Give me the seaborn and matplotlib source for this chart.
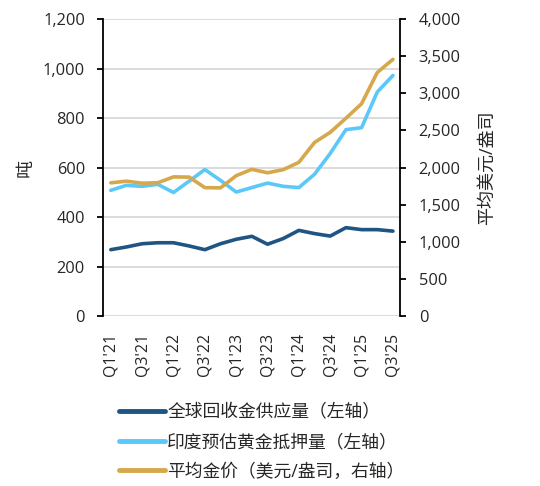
import numpy as np
import pandas as pd
import seaborn as sns
import matplotlib.pyplot as plt

# quarterly data
quarters = ["Q1'21", "Q2'21", "Q3'21", "Q4'21",
            "Q1'22", "Q2'22", "Q3'22", "Q4'22",
            "Q1'23", "Q2'23", "Q3'23", "Q4'23",
            "Q1'24", "Q2'24", "Q3'24", "Q4'24",
            "Q1'25", "Q2'25", "Q3'25"]
recycled = [268, 279, 292, 296, 296, 283, 268, 292, 310, 322,
            290, 313, 346, 333, 323, 357, 349, 349, 343]
india_pledged = [508, 528, 524, 532, 499, 545, 592, 548, 501, 519,
                 537, 524, 519, 573, 657, 753, 761, 905, 972]
gold_price = [1794, 1816, 1789, 1795, 1874, 1871, 1729, 1726, 1890, 1976,
              1929, 1971, 2070, 2338, 2474, 2663, 2860, 3280, 3457]

label_recycled = '全球回收金供应量（左轴）'
label_india = '印度预估黄金抵押量（左轴）'
label_gold = '平均金价（美元/盎司，右轴）'

df = pd.DataFrame({'idx': np.arange(len(quarters)),
                   'recycled': recycled,
                   'india': india_pledged,
                   'gold': gold_price})

sns.set_style('white')
plt.rcParams['font.family'] = ['Open Sans', 'Noto Sans CJK SC', 'DejaVu Sans']
plt.rcParams['axes.unicode_minus'] = False

c_dark = '#1f5582'
c_light = '#5bc8fa'
c_gold = '#d6a84c'

fig = plt.figure(figsize=(5.4, 4.86), dpi=100)
ax = fig.add_axes([0.1907, 0.3498, 0.55, 0.611])
ax2 = ax.twinx()

sns.lineplot(data=df, x='idx', y='recycled', ax=ax, color=c_dark, lw=2.6,
             label=label_recycled, legend=False)
sns.lineplot(data=df, x='idx', y='india', ax=ax, color=c_light, lw=2.6,
             label=label_india, legend=False)
sns.lineplot(data=df, x='idx', y='gold', ax=ax2, color=c_gold, lw=2.6,
             label=label_gold, legend=False)

ax.set_xlim(-0.5, 18.45)
ax.set_ylim(0, 1200)
ax2.set_ylim(0, 4000)
ax.set_yticks(np.arange(0, 1201, 200))
ax2.set_yticks(np.arange(0, 4001, 500))
ax.yaxis.set_major_formatter(plt.FuncFormatter(lambda v, p: f'{v:,.0f}'))
ax2.yaxis.set_major_formatter(plt.FuncFormatter(lambda v, p: f'{v:,.0f}'))

ax.set_xticks(np.arange(0, len(quarters), 2))
ax.set_xticklabels(quarters[::2], rotation=90)

ax.grid(axis='y', color='#d9d9d9', lw=1.3)
ax.set_axisbelow(True)

for a in (ax, ax2):
    for s in a.spines.values():
        s.set_visible(False)
ax.spines['left'].set_visible(True)
ax.spines['left'].set_color('black')
ax.spines['left'].set_linewidth(1.3)
ax2.spines['right'].set_visible(True)
ax2.spines['right'].set_color('black')
ax2.spines['right'].set_linewidth(1.3)

ax.tick_params(axis='y', left=True, length=4.5, width=1.3, color='black',
               pad=8.5, labelsize=11.8, labelcolor='#262626')
ax2.tick_params(axis='y', right=True, length=4.5, width=1.3, color='black',
                pad=9, labelsize=11.8, labelcolor='#262626')
ax.tick_params(axis='x', bottom=False, length=0, pad=12, labelsize=11.4,
               labelcolor='#262626')

ax.set_xlabel('')
ax.set_ylabel('吨', fontsize=13, color='#262626', labelpad=6)
ax2.set_ylabel('平均美元/盎司', fontsize=13, color='#262626', labelpad=12)

handles = ax.get_lines()[:2] + ax2.get_lines()[:1]
labels = [label_recycled, label_india, label_gold]
leg = fig.legend(handles, labels, loc='upper left',
                 bbox_to_anchor=(0.2204, 0.171), frameon=False,
                 fontsize=12.8, handlelength=2.6, handletextpad=0.11,
                 labelspacing=0.67, borderaxespad=0, borderpad=0)
for line in leg.get_lines():
    line.set_linewidth(3.5)
for t in leg.get_texts():
    t.set_color('#262626')

fig.savefig('out.png', dpi=100)
